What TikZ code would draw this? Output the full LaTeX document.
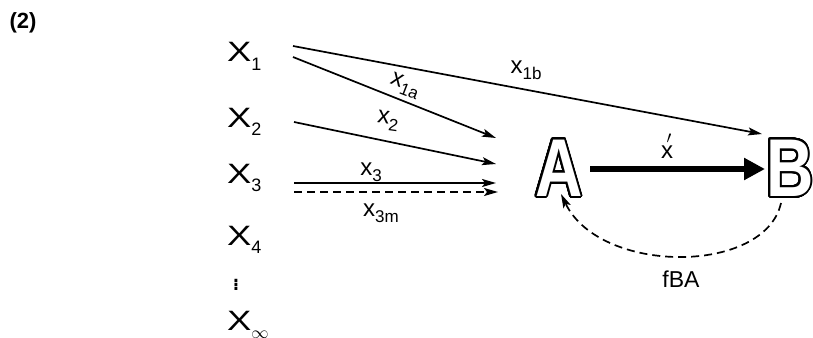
\documentclass[tikz,border=0pt]{standalone}
\usepackage{fontspec}
\setmainfont{Liberation Sans}
\usepackage{contour}
\contourlength{2.1pt}
\contournumber{48}
\usetikzlibrary{arrows.meta}
\newcommand{\sbs}[1]{\raisebox{-0.55ex}{\fontsize{18pt}{18pt}\selectfont #1}}
\newcommand{\lsb}[1]{\raisebox{-0.5ex}{\fontsize{17pt}{17pt}\selectfont #1}}
\newcommand{\hollow}[1]{\scalebox{0.8}[1]{\contour{black}{\textcolor{white}{#1}}}}
\begin{document}
\begin{tikzpicture}[x=1pt,y=-1pt,
  bigx/.style={font=\fontsize{28pt}{28pt}\selectfont, inner sep=0pt, anchor=base west},
  lbl/.style={font=\fontsize{24pt}{24pt}\selectfont, inner sep=0pt},
  hol/.style={font=\fontsize{82pt}{82pt}\selectfont\bfseries, inner sep=0pt},
  flow/.style={line width=1.7pt, -{Stealth[length=14pt,width=8pt,inset=3pt]}},
  dflow/.style={flow, dash pattern=on 8pt off 5pt},
  thick arrow/.style={line width=6pt, -{Triangle[length=21pt,width=21pt]}}
]
\useasboundingbox (0,0) rectangle (813,337);

\node[font=\fontsize{22pt}{22pt}\selectfont\bfseries, inner sep=0pt] (num) at (23,23) {(2)};

\node[bigx] (X1) at (227,62) {\scalebox{1.3}[1]{X}\sbs{1}};
\node[bigx] (X2) at (227,127) {\scalebox{1.3}[1]{X}\sbs{2}};
\node[bigx] (X3) at (227,183) {\scalebox{1.3}[1]{X}\sbs{3}};
\node[bigx] (X4) at (227,245) {\scalebox{1.3}[1]{X}\sbs{4}};
\node[inner sep=0pt, font=\fontsize{30pt}{30pt}\selectfont] (dots) at (236,282) {$\vdots$};
\node[bigx] (Xinf) at (227,330) {\scalebox{1.3}[1]{X}\sbs{$\infty$}};

\node[hol] (A) at (559,169) {\hollow{A}};
\node[hol] (B) at (790,169) {\hollow{B}};

\coordinate (s1b) at (293,46);
\coordinate (e1b) at (762,134);
\coordinate (s1a) at (293,57);
\coordinate (e1a) at (496,138);
\coordinate (s2) at (294,122);
\coordinate (e2) at (496,164);
\coordinate (s3) at (294,183);
\coordinate (e3) at (496,183);
\coordinate (s3m) at (294,192);
\coordinate (e3m) at (498,192);
\coordinate (sx) at (590,169);
\coordinate (ex) at (765,169);
\coordinate (sf) at (781,203);
\coordinate (ef) at (561,194);

\draw[flow] (s1b) -- (e1b);
\draw[flow] (s1a) -- (e1a);
\draw[flow] (s2) -- (e2);
\draw[flow] (s3) -- (e3);
\draw[dflow] (s3m) -- (e3m);
\draw[thick arrow] (sx) -- (ex);
\draw[dflow] (sf) .. controls (765,275) and (600,275) .. (ef);

\node[lbl, rotate=-21] (l1a) at (405,86) {x\lsb{1a}};
\node[lbl, rotate=-8] (l2) at (388,121) {x\lsb{2}};
\node[lbl] (l3) at (371,172) {x\lsb{3}};
\node[lbl] (l3m) at (381,213) {x\lsb{3m}};
\node[lbl] (l1b) at (526,70) {x\lsb{1b}};
\node[lbl] (lx) at (667,152) {x};
\node[inner sep=0pt, font=\fontsize{18pt}{18pt}\selectfont] (lxp) at (669,139) {$\prime$};
\node[font=\fontsize{23pt}{23pt}\selectfont, inner sep=0pt] (lf) at (681,279) {fBA};
\end{tikzpicture}
\end{document}
